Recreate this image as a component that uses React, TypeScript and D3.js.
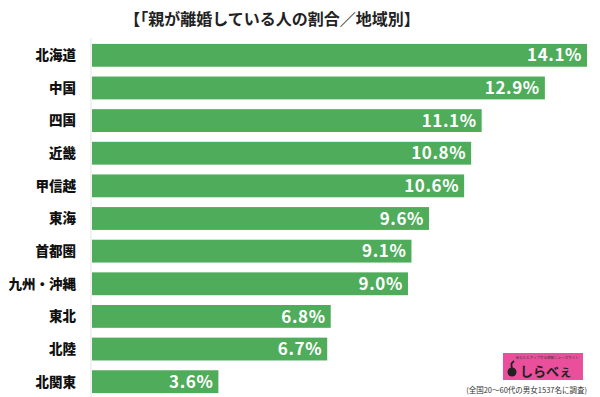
import React, { useEffect, useRef } from 'react';
import * as d3 from 'd3';

const regions = ['北海道', '中国', '四国', '近畿', '甲信越', '東海', '首都圏', '九州・沖縄', '東北', '北陸', '北関東'];
const rates = [14.1, 12.9, 11.1, 10.8, 10.6, 9.6, 9.1, 9.0, 6.8, 6.7, 3.6];

const W = 600;
const H = 397;
const FONT = '"Noto Sans CJK JP", "Noto Sans", sans-serif';

export default function App() {
  const svgRef = useRef<SVGSVGElement>(null);

  useEffect(() => {
    if (!svgRef.current) return;
    const svg = d3.select(svgRef.current);
    svg.selectAll('*').remove();

    const x0 = 92;
    const x = d3.scaleLinear().domain([0, 14.1]).range([x0, 587]);
    const y = d3.scaleBand()
      .domain(regions)
      .range([39, 398])
      .paddingInner(0.3)
      .paddingOuter(0.15);

    svg.append('rect').attr('width', W).attr('height', H).attr('fill', '#fff');

    // title
    svg.append('text')
      .attr('x', 272)
      .attr('y', 25)
      .attr('text-anchor', 'middle')
      .attr('font-family', FONT)
      .attr('font-weight', 'bold')
      .attr('font-size', 16)
      .attr('fill', '#222')
      .text('【「親が離婚している人の割合／地域別】');

    // axis line
    svg.append('line')
      .attr('x1', x0 - 1).attr('x2', x0 - 1)
      .attr('y1', 38).attr('y2', H)
      .attr('stroke', '#e4e4e4')
      .attr('stroke-width', 1);

    const rows = svg.append('g');
    regions.forEach((r, i) => {
      const yy = y(r)!;
      const bh = y.bandwidth();
      rows.append('rect')
        .attr('x', x0)
        .attr('y', yy)
        .attr('width', x(rates[i]) - x0)
        .attr('height', bh)
        .attr('fill', '#4fac5b');

      rows.append('text')
        .attr('x', 76)
        .attr('y', yy + bh / 2)
        .attr('dy', '0.36em')
        .attr('text-anchor', 'end')
        .attr('font-family', FONT)
        .attr('font-weight', 900)
        .attr('font-size', 13.5)
        .attr('fill', '#111')
        .text(r);

      rows.append('text')
        .attr('x', x(rates[i]) - 5)
        .attr('y', yy + bh / 2)
        .attr('dy', '0.36em')
        .attr('text-anchor', 'end')
        .attr('font-family', FONT)
        .attr('font-weight', 'bold')
        .attr('font-size', 17)
        .attr('letter-spacing', 0.6)
        .attr('fill', '#fff')
        .text(rates[i].toFixed(1) + '%');
    });

    // logo
    const logo = svg.append('g').attr('transform', 'translate(503,353)');
    logo.append('rect').attr('width', 80).attr('height', 27).attr('fill', '#ea4f9c');
    logo.append('text')
      .attr('x', 44).attr('y', 6)
      .attr('text-anchor', 'middle')
      .attr('font-family', FONT)
      .attr('font-size', 3.5)
      .attr('fill', '#333')
      .text('あなたとアップする情報ニュースサイト');
    // swan-like mark
    logo.append('circle').attr('cx', 9).attr('cy', 19).attr('r', 4.5).attr('fill', '#222');
    logo.append('path')
      .attr('d', 'M9,15 C8,12 8,10 10,9 L11,8')
      .attr('fill', 'none')
      .attr('stroke', '#222')
      .attr('stroke-width', 1.8);
    logo.append('text')
      .attr('x', 17).attr('y', 23)
      .attr('font-family', FONT)
      .attr('font-weight', 'bold')
      .attr('font-size', 13)
      .attr('fill', '#222')
      .text('しらべぇ');

    svg.append('text')
      .attr('x', 587)
      .attr('y', 393)
      .attr('text-anchor', 'end')
      .attr('font-family', FONT)
      .attr('font-size', 7.5)
      .attr('fill', '#333')
      .text('(全国20～60代の男女1537名に調査)');
  }, []);

  return (
    <svg ref={svgRef} width={W} height={H} style={{ position: 'absolute', left: 0, top: 0 }} />
  );
}
